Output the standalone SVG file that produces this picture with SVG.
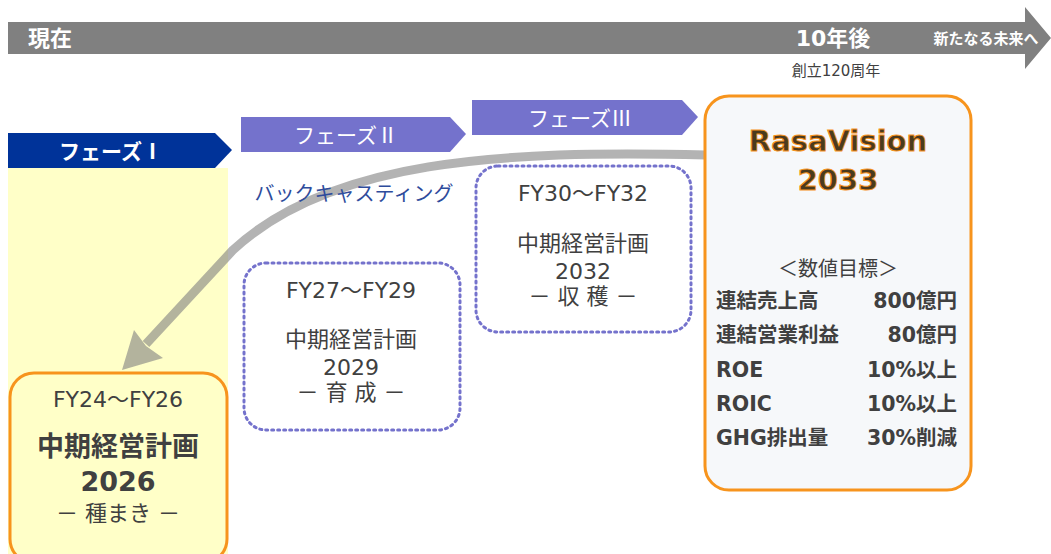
<svg xmlns="http://www.w3.org/2000/svg" width="1051" height="554" viewBox="0 0 1051 554">
<defs>
<style>
text{font-family:"DejaVu Sans","Noto Sans CJK JP",sans-serif;}
.j{font-family:"Noto Sans CJK JP",sans-serif;}
.w{fill:#fff;font-weight:bold;}
.g{fill:#404040;font-size:22px;text-anchor:middle;}
.gb{fill:#404040;font-size:27px;font-weight:bold;text-anchor:middle;}
.b{fill:#404040;font-weight:bold;font-size:20.5px;}
.dot{fill:#fff;stroke:#7472CC;stroke-width:3;stroke-dasharray:2 4;stroke-linecap:round;}
.ph{fill:#7472CC;}
.pt{fill:#fff;font-size:21px;text-anchor:middle;}
.rv{font-size:29px;font-weight:bold;fill:#4A3A1E;stroke:#F7941D;stroke-width:1;text-anchor:middle;}
</style>
</defs>
<rect width="1051" height="554" fill="#fff"/>
<g id="timeline">
<polygon points="8,22 1025,22 1025,7 1051,38 1025,69 1025,54 8,54" fill="#808080"/>
<text x="28" y="46" class="w" font-size="22">現在</text>
<text x="833" y="46" class="w" font-size="22" text-anchor="middle">10年後</text>
<text x="986" y="44" class="w" font-size="15" text-anchor="middle">新たなる未来へ</text>
<text x="836" y="76" font-size="15" fill="#404040" text-anchor="middle">創立120周年</text>
</g>
<g id="phase1">
<rect x="8" y="168" width="220" height="386" fill="#FFFFC8"/>
<polygon points="8,133 215,133 232,150 215,168 8,168" fill="#003399"/>
<text x="111" y="159" class="pt j" font-weight="bold">フェーズⅠ</text>
</g>
<g id="phase2">
<polygon points="241,117 450,117 466,134 450,152 241,152" class="ph"/>
<text x="346" y="143" class="pt j">フェーズⅡ</text>
</g>
<g id="phase3">
<polygon points="472,100 682,100 698,117 682,135 472,135" class="ph"/>
<text x="580" y="126" class="pt j">フェーズⅢ</text>
</g>
<g id="connectors">
<path d="M706,155 C500,150 330,160 233,250 L146,344" fill="none" stroke="#808080" stroke-opacity="0.6" stroke-width="9"/>
<polygon points="122,370 134,330 146,346 163,358" fill="#808080" fill-opacity="0.6"/>
</g>
<g id="backcasting">
<text x="354" y="201" font-size="20" fill="#2E4C9C" text-anchor="middle">バックキャスティング</text>
</g>
<g id="plan2029">
<rect x="244" y="263" width="216" height="167" rx="22" class="dot"/>
<text x="351" y="298" class="g">FY27～FY29</text>
<text x="351" y="347" class="g">中期経営計画</text>
<text x="351" y="375" class="g">2029</text>
<text x="351" y="400" class="g">－ 育 成 －</text>
</g>
<g id="plan2032">
<rect x="476" y="166" width="215" height="166" rx="22" class="dot"/>
<text x="583" y="201" class="g">FY30～FY32</text>
<text x="583" y="251" class="g">中期経営計画</text>
<text x="583" y="279" class="g">2032</text>
<text x="583" y="304" class="g">－ 収 穫 －</text>
</g>
<g id="plan2026">
<rect x="10" y="373" width="217" height="190" rx="24" fill="#FFFFC8" stroke="#F7941D" stroke-width="3"/>
<text x="118" y="407" class="g">FY24～FY26</text>
<text x="118" y="456" class="gb">中期経営計画</text>
<text x="118" y="491" class="gb">2026</text>
<text x="118" y="521" class="g">－ 種まき －</text>
</g>
<g id="vision2033">
<rect x="705" y="96" width="266" height="394" rx="24" fill="#F6F8FA" stroke="#F7941D" stroke-width="3"/>
<text x="838" y="151" class="rv">RasaVision</text>
<text x="838" y="190" class="rv">2033</text>
<text x="838" y="276" class="g" style="font-size:20px">＜数値目標＞</text>
<text x="716" y="308" class="b">連結売上高</text>
<text x="957" y="308" class="b" text-anchor="end">800億円</text>
<text x="716" y="342" class="b">連結営業利益</text>
<text x="957" y="342" class="b" text-anchor="end">80億円</text>
<text x="716" y="377" class="b">ROE</text>
<text x="957" y="377" class="b" text-anchor="end">10%以上</text>
<text x="716" y="411" class="b">ROIC</text>
<text x="957" y="411" class="b" text-anchor="end">10%以上</text>
<text x="716" y="445" class="b">GHG排出量</text>
<text x="957" y="445" class="b" text-anchor="end">30%削減</text>
</g>
</svg>
